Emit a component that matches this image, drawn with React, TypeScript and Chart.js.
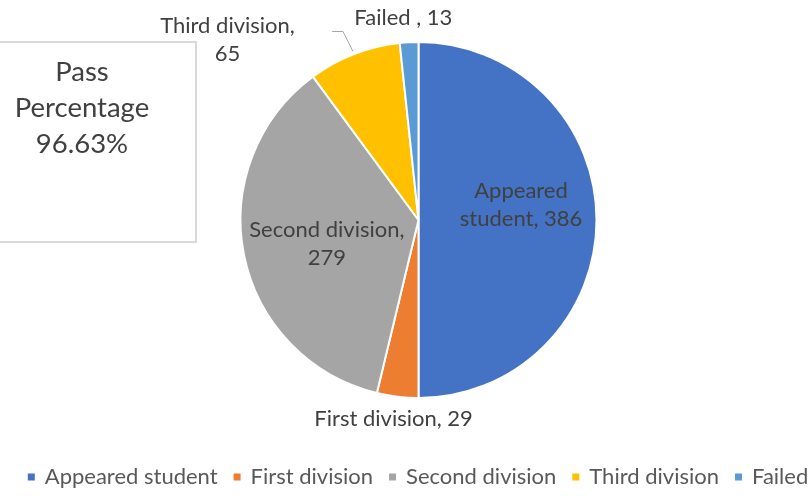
import React, { useEffect, useRef } from "react";
import { Chart, registerables } from "chart.js";

Chart.register(...registerables);

const categories = ["Appeared student", "First division", "Second division", "Third division", "Failed "];
const values = [386, 29, 279, 65, 13];
const colors = ["#4472C4", "#ED7D31", "#A5A5A5", "#FFC000", "#5B9BD5"];
const boxLines = ["Pass", "Percentage", "96.63%"];

const FONT = "Lato, 'Noto Sans', sans-serif";

// label anchor offsets relative to pie centre, in units of radius
const labelAnchors = [
  [0.576, -0.084],
  [-0.14, 1.115],
  [-0.515, 0.135],
  [-1.073, -1.01],
  [-0.085, -1.135],
];
const wrapWidths = [140, 300, 172, 152, 300];

function wrap(ctx: CanvasRenderingContext2D, text: string, maxW: number): string[] {
  const words = text.split(" ");
  const lines: string[] = [];
  let cur = "";
  for (const w of words) {
    const t = cur ? cur + " " + w : w;
    if (cur && ctx.measureText(t).width > maxW) {
      lines.push(cur);
      cur = w;
    } else cur = t;
  }
  if (cur) lines.push(cur);
  return lines;
}

const overlayPlugin = {
  id: "overlay",
  afterDatasetsDraw(chart: any) {
    const ctx: CanvasRenderingContext2D = chart.ctx;
    const meta = chart.getDatasetMeta(0);
    const arc0 = meta.data[0];
    const { x: cx, y: cy, outerRadius: R } = arc0.getProps(["x", "y", "outerRadius"], true);
    ctx.save();
    // leader line for third division label
    ctx.strokeStyle = "#A6A6A6";
    ctx.lineWidth = 1;
    ctx.beginPath();
    ctx.moveTo(cx - 0.485 * R, cy - 1.059 * R);
    ctx.lineTo(cx - 0.424 * R, cy - 1.059 * R);
    ctx.lineTo(cx - 0.368 * R, cy - 0.947 * R);
    ctx.stroke();

    ctx.font = `22px ${FONT}`;
    ctx.fillStyle = "#404040";
    ctx.textAlign = "center";
    ctx.textBaseline = "middle";
    const lh = 28;
    categories.forEach((c, i) => {
      const text = `${c}, ${values[i]}`;
      const lines = wrap(ctx, text, wrapWidths[i]);
      const ax = cx + labelAnchors[i][0] * R;
      const ay = cy + labelAnchors[i][1] * R;
      lines.forEach((l, k) => {
        ctx.fillText(l, ax, ay + (k - (lines.length - 1) / 2) * lh);
      });
    });

    // pass percentage box
    ctx.strokeStyle = "#D9D9D9";
    ctx.lineWidth = 2;
    ctx.strokeRect(-2, 42, 198, 200);
    ctx.font = `27.5px ${FONT}`;
    ctx.fillStyle = "#404040";
    boxLines.forEach((l, k) => ctx.fillText(l, 82, 72 + k * 36));

    // legend
    ctx.font = `22px ${FONT}`;
    ctx.textAlign = "left";
    const sq = 7, gapT = 10, gapI = 16;
    const widths = categories.map((c) => ctx.measureText(c.trim()).width);
    const total = widths.reduce((a, b) => a + b, 0) + categories.length * (sq + gapT) + (categories.length - 1) * gapI;
    let x = 418 - total / 2;
    const ly = 477;
    categories.forEach((c, i) => {
      ctx.fillStyle = colors[i];
      ctx.fillRect(x, ly - sq / 2, sq, sq);
      x += sq + gapT;
      ctx.fillStyle = "#595959";
      ctx.fillText(c.trim(), x, ly);
      x += widths[i] + gapI;
    });
    ctx.restore();
  },
};

export default function App() {
  const ref = useRef<HTMLCanvasElement>(null);
  useEffect(() => {
    const chart = new Chart(ref.current!, {
      type: "pie",
      data: {
        labels: categories,
        datasets: [
          {
            data: values,
            backgroundColor: colors,
            borderColor: "#FFFFFF",
            borderWidth: 2,
          },
        ],
      },
      options: {
        responsive: false,
        animation: false,
        radius: 178,
        layout: { padding: { top: 40, bottom: 96, left: 200, right: 173 } },
        plugins: { legend: { display: false }, tooltip: { enabled: false } },
      } as any,
      plugins: [overlayPlugin],
    });
    return () => chart.destroy();
  }, []);
  return (
    <div style={{ position: "absolute", left: 0, top: 0, width: 810, height: 496, background: "#fff" }}>
      <canvas ref={ref} width={810} height={496} style={{ display: "block" }} />
    </div>
  );
}
